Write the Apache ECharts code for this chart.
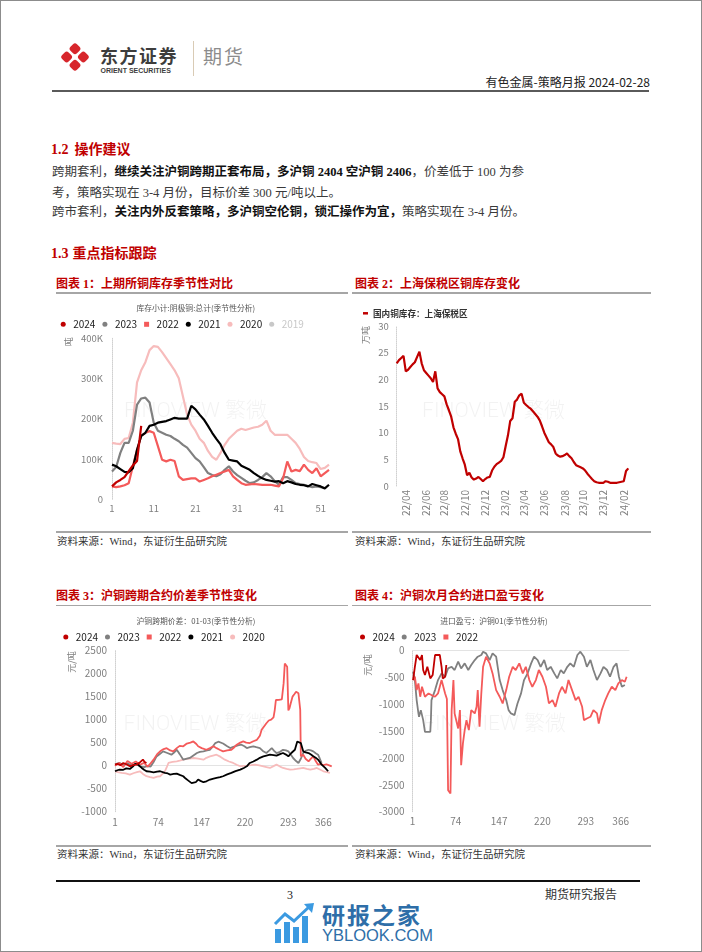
<!DOCTYPE html>
<html>
<head>
<meta charset="utf-8">
<title>有色金属-策略月报</title>
<script src="https://cdn.jsdelivr.net/npm/echarts@6.0.0/dist/echarts.min.js"></script>
<style>
html, body { margin: 0; padding: 0; background: #fff; }
#page { position: relative; width: 702px; height: 952px; overflow: hidden;
  font-family: "Liberation Serif", "Noto Sans CJK SC", serif; color: #333; }
#frame { position: absolute; left: 0; top: 0; width: 700px; height: 950px; border: 1px solid #8c8c8c; }
.t { position: absolute; white-space: nowrap; line-height: 1; }
.bar { position: absolute; }
.chart { position: absolute; }
.red { color: #c00000; font-weight: bold; }
.para { font-size: 12.5px; color: #3a3a3a; left: 52px; }
.para b { color: #111; }
.fig { font-size: 12px; }
.src { font-size: 10.5px; color: #333; }
.gline { background: #a6a6a6; height: 1.5px; }
</style>
</head>
<body>
<div id="page">
  <div id="frame"></div>

  <!-- 页眉 -->
  <svg class="bar" style="left:58px;top:40px" width="34" height="34" viewBox="0 0 34 34">
    <g transform="rotate(45 17 17)" fill="#d7262c">
      <rect x="6.5" y="6.5" width="9.2" height="9.2" rx="2.8"/>
      <rect x="18.3" y="6.5" width="9.2" height="9.2" rx="2.8"/>
      <rect x="6.5" y="18.3" width="9.2" height="9.2" rx="2.8"/>
      <rect x="18.3" y="18.3" width="9.2" height="9.2" rx="2.8"/>
    </g>
  </svg>
  <div class="t" style="left:100px;top:45.5px;font-size:18px;font-weight:bold;letter-spacing:1.5px;color:#3d3d3d;font-family:'Noto Sans CJK SC'">东方证券</div>
  <div class="t" style="left:100.5px;top:67px;font-size:7px;font-weight:bold;color:#3d3d3d;font-family:'Liberation Sans'">ORIENT SECURITIES</div>
  <div class="bar" style="left:193px;top:41px;width:1px;height:35px;background:#d9cbb5"></div>
  <div class="t" style="left:203px;top:46px;font-size:19px;letter-spacing:2px;color:#8c8c8c;font-family:'Noto Sans CJK SC'">期货</div>
  <div class="t" style="right:52px;top:75.5px;font-size:12px;color:#222;font-family:'Noto Sans CJK SC'">有色金属-策略月报 2024-02-28</div>
  <div class="bar" style="left:52px;top:90px;width:597px;height:2px;background:#5a5a5a"></div>

  <!-- 正文 -->
  <div class="t red" style="left:51px;top:143px;font-size:14px"><span style="margin-right:6px">1.2</span>操作建议</div>
  <div class="t para" style="top:166px">跨期套利，<b>继续关注沪铜跨期正套布局，多沪铜 2404 空沪铜 2406</b>，价差低于 100 为参</div>
  <div class="t para" style="top:186.5px">考，策略实现在 3-4 月份，目标价差 300 元/吨以上。</div>
  <div class="t para" style="top:206px">跨市套利，<b>关注内外反套策略，多沪铜空伦铜，锁汇操作为宜，</b>策略实现在 3-4 月份。</div>
  <div class="t red" style="left:51px;top:247px;font-size:14px"><span style="margin-right:4px">1.3</span>重点指标跟踪</div>

  <!-- 图表标题和来源 -->
  <div class="t red fig" style="left:56px;top:278px">图表 1：上期所铜库存季节性对比</div>
  <div class="t red fig" style="left:355px;top:278px">图表 2：上海保税区铜库存变化</div>
  <div class="bar gline" style="left:56px;top:292px;width:292px"></div>
  <div class="bar gline" style="left:352px;top:292px;width:299px"></div>
  <div class="bar gline" style="left:56px;top:531px;width:292px"></div>
  <div class="bar gline" style="left:352px;top:531px;width:299px"></div>
  <div class="t src" style="left:57px;top:537px">资料来源：Wind，东证衍生品研究院</div>
  <div class="t src" style="left:355px;top:537px">资料来源：Wind，东证衍生品研究院</div>

  <div class="t red fig" style="left:56px;top:590px">图表 3：沪铜跨期合约价差季节性变化</div>
  <div class="t red fig" style="left:355px;top:590px">图表 4：沪铜次月合约进口盈亏变化</div>
  <div class="bar gline" style="left:56px;top:604.5px;width:292px"></div>
  <div class="bar gline" style="left:352px;top:604.5px;width:299px"></div>
  <div class="bar gline" style="left:56px;top:845px;width:292px"></div>
  <div class="bar gline" style="left:352px;top:845px;width:299px"></div>
  <div class="t src" style="left:57px;top:849.5px">资料来源：Wind，东证衍生品研究院</div>
  <div class="t src" style="left:355px;top:849.5px">资料来源：Wind，东证衍生品研究院</div>

  <div id="c1" class="chart" style="left:55px;top:296px;width:295px;height:232px"></div>
  <div id="c2" class="chart" style="left:352px;top:296px;width:300px;height:232px"></div>
  <div id="c3" class="chart" style="left:55px;top:606px;width:295px;height:238px"></div>
  <div id="c4" class="chart" style="left:352px;top:606px;width:300px;height:238px"></div>

  <!-- 页脚 -->
  <div class="bar" style="left:56px;top:879.5px;width:584px;height:2px;background:#111"></div>
  <div class="t" style="left:287px;top:889px;font-size:12px;color:#222">3</div>
  <div class="t" style="left:545px;top:889px;font-size:12px;color:#333">期货研究报告</div>
  <svg class="bar" style="left:273px;top:903px" width="42" height="40" viewBox="0 0 42 40">
    <g fill="#3b9ae1">
      <rect x="2" y="26" width="6" height="14"/>
      <rect x="11" y="19" width="6" height="21"/>
      <rect x="20" y="24" width="6" height="16"/>
      <rect x="29" y="13" width="6" height="27"/>
      <polygon points="31,1 41,0 39,10"/>
    </g>
    <polyline points="2,21 12,11 21,18 37,3" fill="none" stroke="#3b9ae1" stroke-width="3"/>
  </svg>
  <div class="t" style="left:322px;top:903px;font-size:23px;font-weight:bold;letter-spacing:2px;color:#2e6ea8;font-family:'Noto Sans CJK SC'">研报之家</div>
  <div class="t" style="left:322px;top:927px;font-size:16.5px;color:#2e6ea8;font-family:'Liberation Sans'">YBLOOK.COM</div>
</div>

<script>
// ---------- 图表1 上期所铜库存(千吨, 按周) ----------
var weekCats = [];
for (var i = 1; i <= 53; i++) weekCats.push(String(i));
var inv2024 = [32, 42, 48, 55, 70, 84, 95, 182];
var inv2023 = [69, 80, 115, 140, 140, 170, 235, 250, 252, 240, 190, 170, 165, 160, 157, 150, 144, 135, 128, 115,
  102, 94, 80, 65, 60, 57, 62, 73, 82, 69, 60, 53, 46, 40, 42, 48, 55, 65, 57, 45, 36, 55, 55, 48, 40, 38, 36, 33, 30, 32, 30, 28];
var inv2022 = [32, 30, 32, 35, 40, 82, 123, 157, 165, 169, 165, 132, 98, 94, 98, 95, 57, 48, 50, 52,
  52, 44, 48, 52, 57, 61, 65, 69, 73, 57, 48, 40, 36, 37, 38, 37, 36, 36, 36, 34, 32, 52, 94, 69, 73, 70, 86, 73, 65, 77, 57, 65, 73];
var inv2021 = [86, 82, 75, 68, 67, 77, 123, 157, 165, 182, 185, 190, 192, 194, 198, 202, 200, 200, 200, 232,
  223, 210, 198, 182, 165, 150, 136, 115, 98, 96, 94, 83, 78, 73, 65, 58, 52, 48, 46, 44, 45, 40, 45, 42, 38, 36, 35, 32, 38, 35, 32, 27, 36];
var inv2020 = [140, 138, 137, 150, 152, 190, 290, 320, 340, 370, 380, 378, 365, 350, 335, 320, 300, 255, 210, 185,
  170, 150, 140, 120, 105, 98, 115, 135, 150, 160, 170, 175, 172, 175, 178, 180, 185, 195, 170, 160, 160, 160, 160, 150, 140, 125, 105, 95, 92, 90, 75, 78, 86];
var inv2019 = [];
var invTicks = [0, 100, 200, 300, 400];

// ---------- 图表2 上海保税区铜库存(万吨, 周度) ----------
var bondedStart = '2022-03-07';
var bondedStock = [23.0, 23.6, 24.0, 24.4, 21.5, 21.8, 22.3, 22.8, 23.2, 24.2,
  25.2, 23.0, 21.7, 21.2, 20.7, 20.2, 19.5, 21.5, 18.3, 17.6,
  17.2, 16.8, 15.3, 14.2, 13.0, 11.0, 9.8, 8.8, 6.5, 5.2,
  4.0, 2.0, 2.5, 1.6, 1.2, 1.4, 1.7, 1.3, 0.9, 1.3,
  1.6, 1.7, 2.9, 3.6, 4.1, 4.4, 4.7, 5.4, 7.5, 9.5,
  12.2, 12.7, 15.8, 16.2, 17.0, 17.3, 15.6, 15.2, 14.8, 14.5,
  14.0, 13.5, 13.0, 12.3, 11.2, 10.0, 9.1, 8.2, 7.8, 7.3,
  6.1, 5.7, 5.5, 5.6, 5.8, 6.1, 5.6, 5.2, 4.5, 3.9,
  3.7, 3.5, 3.3, 2.9, 2.3, 1.8, 1.3, 0.9, 0.7, 0.6,
  0.6, 0.6, 0.9, 0.8, 0.6, 0.6, 0.6, 0.6, 0.7, 0.8,
  0.9, 2.8, 3.3];
var bondedDates = [];
var t0 = Date.parse(bondedStart);
for (var i = 0; i < bondedStock.length; i++) {
  bondedDates.push(new Date(t0 + i * 7 * 86400000).toISOString().slice(0, 10));
}

// ---------- 图表3/4 共用的日序号 1..366 ----------
var dayCats = [];
for (var i = 1; i <= 366; i++) dayCats.push(String(i));

// 图表3 沪铜跨期价差 01-03 [日序号, 元/吨]
var spread2024 = [[1, 22], [5, 40], [10, 10], [15, 58], [20, 30], [26, -14], [31, 10], [37, 22], [42, 60], [45, 100], [48, 130], [51, 80], [54, 58]];
var spread2023 = [[1, 30], [8, 60], [15, 20], [22, 50], [29, 0], [36, 40], [43, -14], [50, -30], [56, -10], [61, -20], [66, 80], [71, 200],
  [77, 260], [82, 310], [88, 280], [96, 238], [100, 280], [105, 345], [110, 250], [116, 130], [122, 150], [127, 166], [133, 220],
  [139, 274], [144, 300], [150, 310], [156, 330], [161, 345], [166, 420], [170, 490], [175, 520], [178, 525], [183, 480], [186, 454],
  [190, 420], [195, 382], [199, 400], [203, 418], [208, 440], [214, 454], [219, 420], [223, 382], [228, 400], [234, 418], [239, 400],
  [245, 382], [250, 320], [256, 274], [261, 330], [265, 382], [269, 320], [273, 274], [279, 300], [284, 345], [289, 330], [293, 310],
  [297, 240], [301, 166], [306, 100], [310, 58], [314, 150], [318, 274], [322, 320], [327, 345], [331, 330], [335, 310], [339, 270],
  [343, 238], [346, 150], [349, 58]];
var spread2022 = [[1, 0], [8, 60], [15, -30], [22, 100], [29, 40], [36, 90], [43, 20], [50, 60], [56, -20], [61, 50], [66, 130], [72, 250],
  [77, 310], [83, 360], [88, 380], [94, 330], [99, 310], [105, 380], [110, 430], [116, 420], [122, 480], [128, 500], [133, 525],
  [138, 470], [141, 420], [147, 380], [155, 345], [161, 380], [167, 420], [172, 380], [178, 340], [183, 310], [190, 330], [197, 345],
  [202, 400], [206, 454], [212, 500], [217, 525], [222, 500], [228, 490], [234, 530], [240, 560], [245, 650], [248, 780], [252, 850],
  [256, 920], [260, 980], [264, 1000], [268, 1050], [270, 1200], [272, 1425], [277, 1430], [282, 1440], [285, 1786], [287, 2218],
  [289, 2200], [291, 2146], [293, 1200], [295, 1250], [297, 1354], [300, 1498], [303, 1550], [306, 1606], [308, 1620], [310, 1570],
  [313, 1210], [314, 202], [318, 238], [322, 150], [327, 94], [331, 150], [335, 202], [339, 100], [343, 22], [348, 40], [352, 10],
  [357, 30], [363, 0], [366, -20]];
var spread2021 = [[1, -122], [5, -100], [9, -86], [15, -90], [20, -60], [26, -72], [31, -20], [35, 40], [37, 58], [40, 20], [43, -20],
  [46, -50], [50, -90], [54, -122], [60, -130], [66, -144], [72, -130], [77, -122], [85, -158], [90, -170], [94, -194], [100, -180],
  [105, -173], [110, -200], [116, -230], [120, -280], [124, -320], [127, -338], [130, -380], [133, -410], [137, -360], [141, -302],
  [145, -330], [150, -360], [155, -340], [161, -302], [167, -280], [172, -266], [178, -250], [183, -230], [190, -190], [197, -158],
  [204, -120], [212, -86], [218, -50], [223, -14], [228, 58], [234, 90], [240, 130], [245, 170], [251, 202], [256, 220], [262, 238],
  [268, 230], [273, 216], [279, 250], [284, 274], [289, 240], [293, 202], [298, 274], [301, 300], [304, 345], [308, 525], [311, 500],
  [314, 490], [318, 310], [322, 290], [327, 274], [331, 240], [335, 202], [339, 170], [343, 130], [346, 80], [349, 22], [352, -10],
  [355, -50], [358, -90], [360, -122]];
var spread2020 = [[1, -122], [6, -140], [12, -158], [19, -170], [26, -194], [33, -160], [38, -140], [43, -122], [48, -180], [54, -230],
  [60, -250], [66, -266], [72, -240], [77, -230], [81, -180], [85, -122], [88, -40], [91, 58], [98, 80], [105, 94], [110, 110],
  [116, 130], [124, 150], [133, 166], [141, 150], [150, 130], [155, 170], [161, 202], [166, 220], [172, 238], [179, 190], [186, 130],
  [193, 90], [200, 58], [206, 20], [212, -14], [218, -5], [223, 0], [230, 10], [237, 22], [244, 5], [251, -14], [256, -30], [262, -50],
  [268, -10], [273, 22], [279, -20], [284, -50], [290, -70], [296, -86], [302, -80], [307, -72], [313, -60], [318, -50], [324, -70],
  [330, -86], [336, -70], [341, -50], [347, -90], [352, -122], [358, -140], [363, -158]];

// 图表4 进口盈亏 沪铜01 [日序号, 元/吨]
var pl2024 = [[2, -547], [5, -300], [8, -80], [11, -50], [14, -174], [17, -80], [19, -360], [22, -454], [26, -300], [31, -516],
  [35, -454], [39, -80], [43, -80], [47, -80], [50, -300], [52, -516], [56, -485], [58, -267]];
var pl2023 = [[2, -392], [5, -547], [8, -920], [11, -1169], [12, -1231], [15, -1107], [19, -1294], [22, -1511], [31, -1511],
  [32, -1294], [33, -920], [39, -734], [44, -547], [50, -423], [56, -485], [61, -330], [67, -300], [72, -360], [78, -205], [83, -330],
  [89, -236], [95, -360], [100, -267], [106, -174], [111, -112], [117, -80], [120, -19], [125, -50], [131, -174], [136, -50],
  [142, -112], [148, -547], [153, -734], [159, -920], [163, -1107], [167, -1169], [173, -1200], [175, -1107], [178, -983],
  [184, -796], [189, -547], [195, -423], [201, -236], [206, -112], [212, -174], [217, -300], [223, -174], [228, -360], [234, -300],
  [240, -423], [245, -516], [251, -360], [256, -423], [262, -300], [267, -236], [273, -300], [279, -80], [284, -19], [290, -112],
  [295, -300], [301, -174], [306, -360], [312, -547], [318, -423], [323, -300], [329, -360], [334, -485], [340, -300], [345, -236],
  [349, -485], [354, -672], [359, -640]];
var pl2022 = [[2, -547], [5, -485], [8, -734], [11, -610], [14, -858], [17, -672], [22, -858], [28, -796], [33, -827], [39, -858],
  [44, -796], [50, -547], [56, -796], [59, -900], [61, -2600], [65, -2660], [67, -1107], [70, -547], [72, -1169], [78, -1449],
  [81, -1107], [83, -2133], [86, -1729], [89, -1480], [92, -1294], [96, -1480], [100, -1107], [106, -1169], [109, -1045], [111, -734],
  [114, -1418], [117, -796], [120, -300], [125, -112], [131, -236], [136, -423], [142, -734], [148, -858], [153, -983], [159, -734],
  [164, -485], [170, -300], [175, -360], [181, -236], [187, -423], [192, -300], [198, -547], [203, -672], [209, -547], [214, -360],
  [220, -485], [226, -672], [231, -983], [237, -920], [242, -1045], [248, -796], [253, -672], [259, -796], [264, -547], [270, -734],
  [276, -920], [281, -858], [287, -1045], [290, -1294], [295, -1263], [301, -1231], [306, -1107], [312, -1169], [315, -1356],
  [320, -1107], [326, -920], [331, -796], [337, -672], [343, -734], [348, -610], [354, -547], [359, -578], [362, -485]];

// ---------- 样式 ----------
var CJK = '"Noto Sans CJK SC", sans-serif';
var C2024 = '#c00000', C2023 = '#808080', C2022 = '#f45a5a', C2021 = '#000000', C2020 = '#f7bcbc', C2019 = '#d9d9d9';
var SQUARE = 'path://M0,0h10v10h-10z';

function txt(text, x, y, font, color, rot) {
  return {
    type: 'text', x: x, y: y, rotation: rot || 0, silent: true,
    style: { text: text, font: font, fill: color, align: 'center', verticalAlign: 'middle',
      textAlign: 'center', textVerticalAlign: 'middle' }
  };
}
function wmark(x, y) {
  var w = txt('FINOVIEW 繁微', x, y, '300 21px Roboto, "Noto Sans CJK SC"', 'rgba(0,0,0,0.05)');
  w.z = -10;
  return w;
}
function line(name, color, data, width) {
  return {
    name: name, type: 'line', data: data, symbol: 'none', showSymbol: false,
    lineStyle: { color: color, width: width || 2 }, itemStyle: { color: color },
    emphasis: { disabled: true }
  };
}
function dayPairs(arr) {
  return arr.map(function (p) { return [String(p[0]), p[1]]; });
}
function seasonLegend(names, icons, left, top) {
  return {
    left: left, top: top, padding: 0, itemWidth: 10, itemHeight: 5, itemGap: 7,
    textStyle: { fontSize: 10, color: '#222', fontFamily: CJK },
    inactiveColor: '#c8c8c8',
    data: names.map(function (n, k) { return { name: n, icon: icons[k] }; })
  };
}
// 刻度数字不要千分位
function plain(v) { return String(v); }
var tickText = { color: '#7f7f7f', fontFamily: CJK };

// ---------- 图表1 ----------
var chart1 = echarts.init(document.getElementById('c1'));
var leg1 = seasonLegend(['2024', '2023', '2022', '2021', '2020', '2019'],
  ['circle', 'circle', SQUARE, 'circle', 'circle', 'circle'], 5.7, 23.3);
leg1.selected = { '2019': false };
chart1.setOption({
  animation: false,
  graphic: [
    wmark(140.5, 115.7),
    txt('库存小计:阴极铜:总计(季节性分析)', 140.8, 11.7, '7.8px "Noto Sans CJK SC"', '#555'),
    txt('吨', 13.3, 45.7, '9px "Noto Sans CJK SC"', '#808080', Math.PI / 2)
  ],
  legend: leg1,
  grid: { left: 57, top: 42, width: 217, height: 161.3 },
  xAxis: {
    type: 'category', data: weekCats, boundaryGap: false,
    axisLine: { show: false }, axisTick: { show: false },
    axisLabel: Object.assign({ interval: 9, fontSize: 9.5, margin: 4 }, tickText)
  },
  yAxis: {
    type: 'value', min: invTicks[0], max: invTicks[invTicks.length - 1], interval: 100,
    axisLine: { show: true, lineStyle: { color: '#d0d0d0', type: 'dotted' } },
    axisTick: { show: false }, splitLine: { show: false },
    axisLabel: Object.assign({ fontSize: 9.5, margin: 9, formatter: function (v) { return v === 0 ? '0' : v + 'K'; } }, tickText)
  },
  series: [
    line('2019', C2019, inv2019),
    line('2020', C2020, inv2020, 2.2),
    line('2023', C2023, inv2023, 2.2),
    line('2022', C2022, inv2022, 2.2),
    line('2021', C2021, inv2021, 2.2),
    line('2024', C2024, inv2024, 2.2)
  ]
});

// ---------- 图表2 ----------
var chart2 = echarts.init(document.getElementById('c2'));
chart2.setOption({
  animation: false,
  graphic: [
    wmark(141.5, 115.7),
    txt('万吨', 14, 39, '9px "Noto Sans CJK SC"', '#808080', Math.PI / 2)
  ],
  legend: {
    left: 11, top: 13, padding: 0, itemWidth: 5, itemHeight: 2.5, icon: 'rect',
    textStyle: { fontSize: 8.6, fontWeight: 'bold', color: '#333', fontFamily: CJK },
    data: ['国内铜库存：上海保税区']
  },
  grid: { left: 44.7, top: 30, width: 231.6, height: 160 },
  xAxis: {
    type: 'category', data: bondedDates, boundaryGap: false,
    axisLine: { show: false }, axisTick: { show: false },
    axisLabel: Object.assign({
      rotate: 90, fontSize: 10, margin: 4,
      interval: function (idx, val) {
        var d = new Date(val);
        return d.getUTCDate() <= 7 && d.getUTCMonth() % 2 === 1;
      },
      formatter: function (val) { return val.slice(2, 4) + '/' + val.slice(5, 7); }
    }, tickText)
  },
  yAxis: {
    type: 'value', min: 0, max: 30, interval: 5,
    axisLine: { show: true, lineStyle: { color: '#d0d0d0', type: 'dotted' } },
    axisTick: { show: false }, splitLine: { show: false },
    axisLabel: Object.assign({ fontSize: 9.5, margin: 8, formatter: plain }, tickText)
  },
  series: [line('国内铜库存：上海保税区', C2024, bondedStock, 2.2)]
});

// ---------- 图表3 ----------
var chart3 = echarts.init(document.getElementById('c3'));
chart3.setOption({
  animation: false,
  graphic: [
    wmark(140, 119),
    txt('沪铜跨期价差：01-03(季节性分析)', 141, 14.7, '7.8px "Noto Sans CJK SC"', '#555'),
    txt('元/吨', 16.7, 56, '9px "Noto Sans CJK SC"', '#808080', Math.PI / 2)
  ],
  legend: seasonLegend(['2024', '2023', '2022', '2021', '2020'],
    ['circle', 'circle', SQUARE, 'circle', 'circle'], 8.3, 26),
  grid: { left: 60, top: 44.5, width: 216.7, height: 161.2 },
  xAxis: {
    type: 'category', data: dayCats, boundaryGap: false,
    axisLine: { show: true, lineStyle: { color: '#e3e3e3' } }, axisTick: { show: false },
    axisLabel: Object.assign({ interval: 72, fontSize: 10, margin: 6, alignMaxLabel: 'right' }, tickText)
  },
  yAxis: {
    type: 'value', min: -1000, max: 2500, interval: 500,
    axisLine: { show: true, lineStyle: { color: '#d0d0d0', type: 'dotted' } },
    axisTick: { show: false }, splitLine: { show: false },
    axisLabel: Object.assign({ fontSize: 10, margin: 8, formatter: plain }, tickText)
  },
  series: [
    line('2020', C2020, dayPairs(spread2020), 1.8),
    line('2023', C2023, dayPairs(spread2023), 1.8),
    line('2022', C2022, dayPairs(spread2022), 1.8),
    line('2021', C2021, dayPairs(spread2021), 1.8),
    line('2024', C2024, dayPairs(spread2024), 1.8)
  ]
});

// ---------- 图表4 ----------
var chart4 = echarts.init(document.getElementById('c4'));
chart4.setOption({
  animation: false,
  graphic: [
    wmark(142.5, 119),
    txt('进口盈亏：沪铜01(季节性分析)', 142, 14.7, '7.8px "Noto Sans CJK SC"', '#555'),
    txt('元/吨', 16, 59, '9px "Noto Sans CJK SC"', '#808080', Math.PI / 2)
  ],
  legend: seasonLegend(['2024', '2023', '2022'], ['circle', 'circle', SQUARE], 8, 26),
  grid: { left: 60.5, top: 44.7, width: 216.5, height: 161 },
  xAxis: {
    type: 'category', data: dayCats, boundaryGap: false,
    axisLine: { show: true, lineStyle: { color: '#e3e3e3' } }, axisTick: { show: false },
    axisLabel: Object.assign({ interval: 72, fontSize: 10, margin: 5, alignMaxLabel: 'right' }, tickText)
  },
  yAxis: {
    type: 'value', min: -3000, max: 0, interval: 500,
    axisLine: { show: true, lineStyle: { color: '#d0d0d0', type: 'dotted' } },
    axisTick: { show: false }, splitLine: { show: false },
    axisLabel: Object.assign({ fontSize: 10, margin: 8, formatter: plain }, tickText)
  },
  series: [
    line('2023', C2023, dayPairs(pl2023), 1.8),
    line('2022', C2022, dayPairs(pl2022), 1.8),
    line('2024', C2024, dayPairs(pl2024), 1.8)
  ]
});
</script>
</body>
</html>
